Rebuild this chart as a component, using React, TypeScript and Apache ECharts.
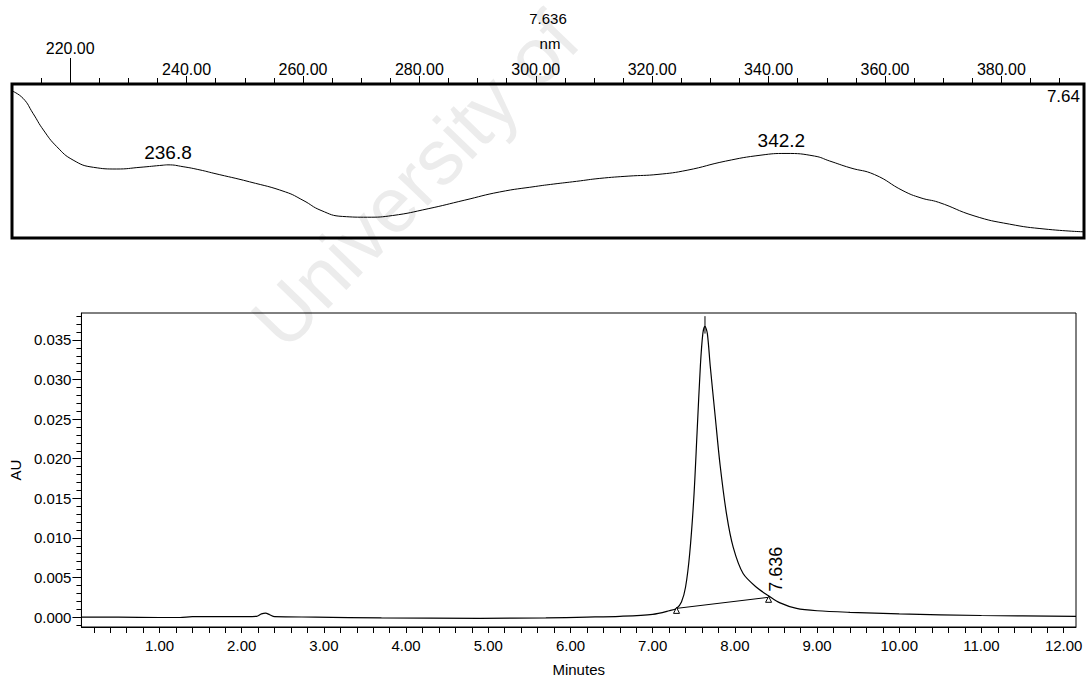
import React, { useEffect, useRef } from "react";
import * as echarts from "echarts";

// ---------- Top panel: UV spectrum at 7.636 min ----------
const spectrumNm = [
  210, 211.9, 213.6, 215.4, 217.7, 220.5, 224, 228, 232, 236, 236.8, 239.4, 242.3, 244.7,
  250.8, 257, 260, 263.1, 266.8, 271.1, 275.4, 281.5, 287.7, 293.8, 300, 303, 307,
  311, 316, 321, 326, 332.6, 338.7, 343, 347.9, 350.5, 354, 358.2, 363.1, 366.2, 369.2,
  375.3, 381.4, 387.5, 394.2,
];
const spectrumAbs = [
  0.955, 0.907, 0.81, 0.701, 0.593, 0.506, 0.459, 0.448, 0.459, 0.473, 0.475, 0.463, 0.442, 0.42,
  0.365, 0.299, 0.245, 0.179, 0.14, 0.135, 0.146, 0.19, 0.245, 0.299, 0.335, 0.35, 0.368,
  0.387, 0.402, 0.413, 0.44, 0.499, 0.538, 0.549, 0.532, 0.5, 0.456, 0.412, 0.307, 0.26, 0.232,
  0.144, 0.09, 0.058, 0.04,
];
const spectrumPeakNm = [236.8, 342.2];
const spectrumPeakAbs = [0.475, 0.549];
const spectrumLabels = [240, 260, 280, 300, 320, 340, 360, 380];
const spectrumCursorNm = 220;

// ---------- Bottom panel: chromatogram ----------
const timeMin = [
  0.05, 0.5, 1.0, 1.25, 1.4, 1.9, 2.18, 2.24, 2.29, 2.34, 2.4, 2.9, 3.7, 4.9, 5.7, 6.2, 6.6,
  7.0, 7.2, 7.29, 7.35, 7.4, 7.45, 7.5, 7.54, 7.58, 7.61, 7.636, 7.665, 7.7, 7.76, 7.82, 7.9,
  7.98, 8.1, 8.27, 8.41, 8.55, 8.75, 9.0, 9.4, 10.0, 11.0, 12.15,
];
const absorbanceAU = [
  0.0, 0.0, -0.00005, -0.00005, 0.00005, 0.00005, 0.0001, 0.0004, 0.0005, 0.0003, 0.00005, 0.0,
  -0.0001, -0.00015, -0.0001, 0.0, 0.0001, 0.00035, 0.0008, 0.0011, 0.0019, 0.0038, 0.008, 0.015,
  0.0233, 0.0317, 0.0358, 0.0367, 0.0358, 0.0317, 0.0254, 0.0192, 0.0129, 0.0088, 0.0055, 0.0037,
  0.0027, 0.0018, 0.0011, 0.0008, 0.0006, 0.0004, 0.0002, 0.0001,
];
const peakName = "7.636";
const peakRT = 7.636;
const peakApexAU = 0.0367;
const integrationStart = [7.29, 0.0011];
const integrationEnd = [8.41, 0.0025];
const timeLabels = [1, 2, 3, 4, 5, 6, 7, 8, 9, 10, 11, 12];
const auLabels = [0, 0.005, 0.01, 0.015, 0.02, 0.025, 0.03, 0.035];

const FONT = "'Liberation Sans', Arial, Helvetica, sans-serif";

function range(start: number, end: number, step: number, digits: number): number[] {
  const out: number[] = [];
  const n = Math.round((end - start) / step);
  for (let i = 0; i <= n; i++) out.push(Number((start + i * step).toFixed(digits)));
  return out;
}

export default function App() {
  const ref = useRef<HTMLDivElement>(null);

  useEffect(() => {
    if (!ref.current) return;
    const chart = echarts.init(ref.current, undefined, { renderer: "svg" });

    const nmMinorTicks = range(215, 390, 5, 1);
    const timeMinorTicks = range(0.2, 12.0, 0.2, 2);
    const auMinorTicks = range(-0.001, 0.038, 0.001, 4);

    const spectrum = spectrumNm.map((x, i) => [x, spectrumAbs[i]]);
    const chrom = timeMin.map((x, i) => [x, absorbanceAU[i]]);
    const spectrumPeaks = spectrumPeakNm.map((x, i) => ({
      value: [x, spectrumPeakAbs[i]],
      name: x.toFixed(1),
    }));

    const black = "#000";
    const tickStyle = { color: black, width: 1 };

    const option: any = {
      animation: false,
      backgroundColor: "#fff",
      textStyle: { fontFamily: FONT, color: black },
      grid: [
        {
          left: 12,
          top: 84,
          right: 3,
          height: 154,
          show: true,
          borderColor: black,
          borderWidth: 3,
          containLabel: false,
        },
        {
          left: 81,
          top: 313,
          right: 11,
          bottom: 48,
          show: true,
          borderColor: black,
          borderWidth: 1,
          containLabel: false,
        },
      ],
      xAxis: [
        {
          gridIndex: 0,
          type: "value",
          position: "top",
          min: 210,
          max: 394.2,
          axisLine: { show: false, onZero: false },
          splitLine: { show: false },
          axisTick: { show: true, customValues: nmMinorTicks, length: 6, lineStyle: tickStyle },
          axisLabel: {
            show: true,
            customValues: spectrumLabels,
            formatter: (v: number) => v.toFixed(2),
            fontSize: 16,
            margin: 7,
            color: black,
            fontFamily: FONT,
          },
        },
        {
          gridIndex: 0,
          type: "value",
          position: "top",
          min: 210,
          max: 394.2,
          axisLine: { show: false, onZero: false },
          splitLine: { show: false },
          axisTick: { show: true, customValues: spectrumLabels, length: 8, lineStyle: tickStyle },
          axisLabel: { show: false },
        },
        {
          gridIndex: 0,
          type: "value",
          position: "top",
          min: 210,
          max: 394.2,
          axisLine: { show: false, onZero: false },
          splitLine: { show: false },
          axisTick: { show: true, customValues: [spectrumCursorNm], length: 26, lineStyle: tickStyle },
          axisLabel: {
            show: true,
            customValues: [spectrumCursorNm],
            formatter: (v: number) => v.toFixed(2),
            fontSize: 16,
            margin: 28,
            color: black,
            fontFamily: FONT,
          },
        },
        {
          gridIndex: 1,
          type: "value",
          position: "bottom",
          min: 0.05,
          max: 12.15,
          name: "Minutes",
          nameLocation: "middle",
          nameGap: 35,
          nameTextStyle: { fontSize: 15, color: black, fontFamily: FONT },
          axisLine: { show: true, onZero: false, lineStyle: { color: black, width: 1 } },
          splitLine: { show: false },
          axisTick: { show: true, customValues: timeMinorTicks, length: 6, lineStyle: tickStyle },
          axisLabel: {
            show: true,
            customValues: timeLabels,
            formatter: (v: number) => v.toFixed(2),
            fontSize: 15,
            margin: 11,
            color: black,
            fontFamily: FONT,
          },
        },
      ],
      yAxis: [
        {
          gridIndex: 0,
          type: "value",
          min: 0,
          max: 1,
          show: false,
          axisLine: { onZero: false },
          splitLine: { show: false },
        },
        {
          gridIndex: 1,
          type: "value",
          position: "left",
          min: -0.00125,
          max: 0.0384,
          name: "AU",
          nameLocation: "middle",
          nameRotate: 90,
          nameGap: 57,
          nameTextStyle: { fontSize: 15, color: black, fontFamily: FONT },
          axisLine: { show: true, onZero: false, lineStyle: { color: black, width: 1 } },
          splitLine: { show: false },
          axisTick: { show: true, customValues: auLabels, length: 9, lineStyle: tickStyle },
          axisLabel: {
            show: true,
            customValues: auLabels,
            formatter: (v: number) => v.toFixed(3),
            fontSize: 15,
            margin: 10,
            color: black,
            fontFamily: FONT,
          },
        },
        {
          gridIndex: 1,
          type: "value",
          position: "left",
          min: -0.00125,
          max: 0.0384,
          axisLine: { show: false, onZero: false },
          splitLine: { show: false },
          axisTick: { show: true, customValues: auMinorTicks, length: 5, lineStyle: tickStyle },
          axisLabel: { show: false },
        },
      ],
      series: [
        {
          type: "line",
          xAxisIndex: 0,
          yAxisIndex: 0,
          data: spectrum,
          smooth: 0.5,
          showSymbol: false,
          symbol: "none",
          lineStyle: { color: black, width: 1 },
          z: 5,
        },
        {
          type: "scatter",
          xAxisIndex: 0,
          yAxisIndex: 0,
          data: spectrumPeaks,
          symbolSize: 0,
          itemStyle: { opacity: 1, color: black },
          label: {
            show: true,
            position: "top",
            distance: 3,
            formatter: (p: any) => p.name,
            fontSize: 19,
            color: black,
            fontFamily: FONT,
          },
          z: 6,
        },
        {
          type: "line",
          xAxisIndex: 3,
          yAxisIndex: 1,
          data: chrom,
          smooth: 0.3,
          showSymbol: false,
          symbol: "none",
          lineStyle: { color: black, width: 1.2 },
          z: 5,
        },
        {
          type: "line",
          xAxisIndex: 3,
          yAxisIndex: 1,
          data: [integrationStart, integrationEnd],
          showSymbol: false,
          symbol: "none",
          lineStyle: { color: black, width: 1 },
          z: 5,
        },
        {
          type: "line",
          xAxisIndex: 3,
          yAxisIndex: 1,
          data: [
            [peakRT, peakApexAU - 0.0009],
            [peakRT, peakApexAU + 0.0013],
          ],
          showSymbol: false,
          symbol: "none",
          lineStyle: { color: black, width: 1 },
          z: 6,
        },
        {
          type: "scatter",
          xAxisIndex: 3,
          yAxisIndex: 1,
          symbol: "triangle",
          symbolSize: 6,
          symbolOffset: [0, 2],
          itemStyle: { color: "#fff", borderColor: black, borderWidth: 1, opacity: 1 },
          data: [
            { value: integrationStart },
            {
              value: integrationEnd,
              label: {
                show: true,
                formatter: peakName,
                rotate: 90,
                position: "inside",
                offset: [30, 7],
                fontSize: 18,
                color: black,
                fontFamily: FONT,
              },
            },
          ],
          z: 7,
        },
      ],
      graphic: [
        {
          type: "text",
          x: 415,
          y: 180,
          rotation: (46 * Math.PI) / 180,
          z: -10,
          silent: true,
          style: {
            text: "University of",
            fontSize: 78,
            fontFamily: FONT,
            fill: "#ececec",
            align: "center",
            verticalAlign: "middle",
          },
        },
        {
          type: "text",
          x: 548,
          y: 18,
          style: {
            text: peakName,
            fontSize: 15,
            fontFamily: FONT,
            fill: black,
            align: "center",
            verticalAlign: "middle",
          },
        },
        {
          type: "text",
          x: 550,
          y: 43,
          style: {
            text: "nm",
            fontSize: 15,
            fontFamily: FONT,
            fill: black,
            align: "center",
            verticalAlign: "middle",
          },
        },
        {
          type: "text",
          x: 1080,
          y: 96,
          style: {
            text: "7.64",
            fontSize: 17,
            fontFamily: FONT,
            fill: black,
            align: "right",
            verticalAlign: "middle",
          },
        },
      ],
    };

    chart.setOption(option);
    return () => chart.dispose();
  }, []);

  return (
    <div
      ref={ref}
      style={{ position: "absolute", left: 0, top: 0, width: 1087, height: 678, background: "#fff" }}
    />
  );
}
